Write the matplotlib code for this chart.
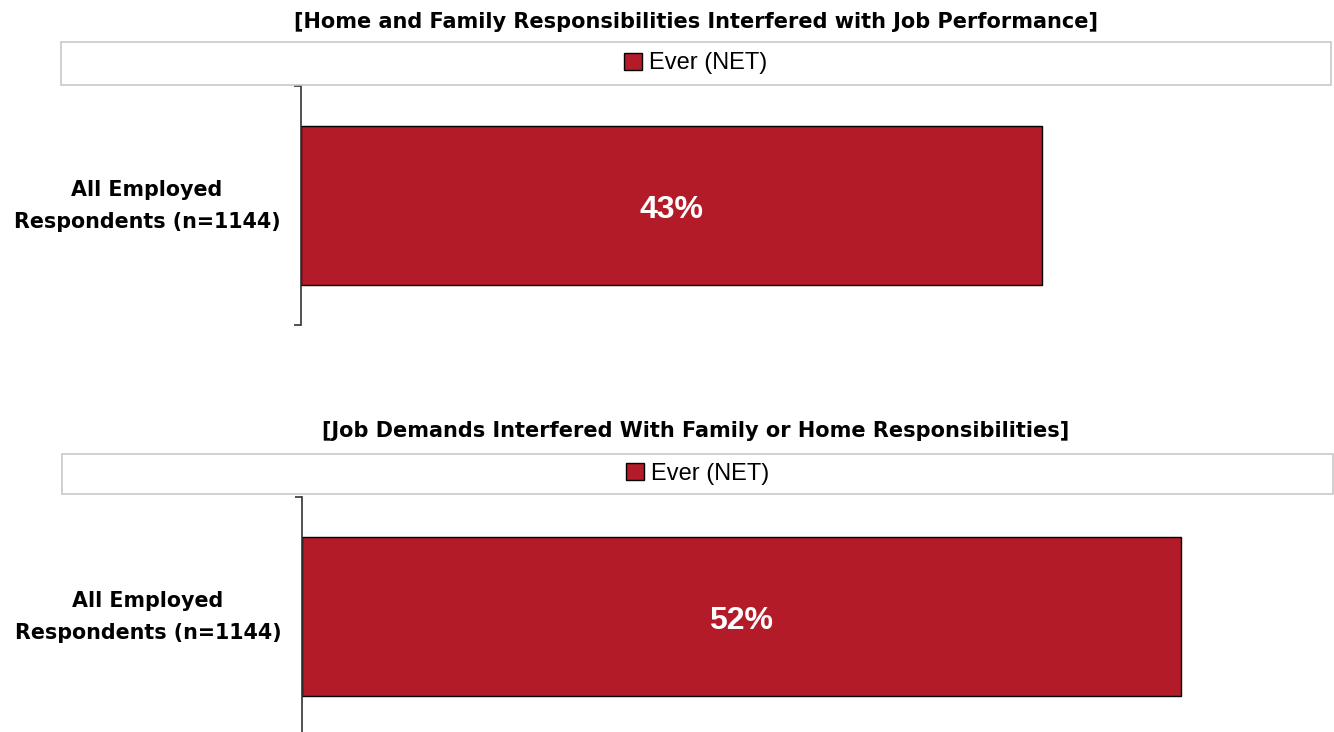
import matplotlib
matplotlib.use("Agg")
import matplotlib.pyplot as plt
from matplotlib.patches import Rectangle

# survey results, one panel per question
titles = [
    "[Home and Family Responsibilities Interfered with Job Performance]",
    "[Job Demands Interfered With Family or Home Responsibilities]",
]
group_label = "All Employed\nRespondents (n=1144)"
series_name = "Ever (NET)"
values = [43, 52]

bar_color = "#B41B28"
W, H = 1334, 732

fig = plt.figure(figsize=(W / 100, H / 100), dpi=100)
fig.patch.set_facecolor("white")


def px_rect(left, top, right, bottom):
    return [left / W, 1 - bottom / H, (right - left) / W, (bottom - top) / H]


# pixel layout of each panel: title y, legend box, axes box, x max
panels = [
    dict(title_y=22, box=(61, 42, 1331, 85), axes=(301, 86, 1331, 325), xmax=59.8),
    dict(title_y=431, box=(62, 454, 1333, 494), axes=(302, 497, 1333, 736), xmax=61.0),
]

for title, val, p in zip(titles, values, panels):
    ax = fig.add_axes(px_rect(*p["axes"]))
    bars = ax.barh([0], [val], height=0.665, color=bar_color,
                   edgecolor="black", linewidth=1.0, label=series_name)
    ax.set_xlim(0, p["xmax"])
    ax.set_ylim(0.5, -0.5)

    for side in ["top", "right", "bottom"]:
        ax.spines[side].set_visible(False)
    ax.spines["left"].set_color("#333333")
    ax.spines["left"].set_linewidth(1.2)
    ax.set_xticks([])

    # category label sits a touch above the bar centre
    ax.set_yticks([-0.03])
    ax.set_yticklabels([group_label], fontfamily="DejaVu Sans",
                       fontweight="bold", fontsize=14.9,
                       multialignment="center", linespacing=1.7)
    ax.tick_params(axis="y", which="major", length=0, pad=15)
    ax.set_yticks([-0.5, 0.5], minor=True)
    ax.tick_params(axis="y", which="minor", length=5, width=1.2, color="#333333")

    ax.text(val / 2, 0.02, f"{val}%", ha="center", va="center", color="white",
            fontsize=23, fontweight="bold", fontfamily="Liberation Sans")

    # legend strip above the plot
    l, t, r, b = p["box"]
    fig.patches.append(Rectangle((l / W, 1 - b / H), (r - l) / W, (b - t) / H,
                                 transform=fig.transFigure, facecolor="white",
                                 edgecolor="#C8C8C8", linewidth=1.2))
    fig.legend(handles=[bars], loc="center",
               bbox_to_anchor=((l + r) / 2 / W, 1 - (t + b) / 2 / H),
               frameon=False, handlelength=0.75, handleheight=0.75,
               handletextpad=0.3,
               prop={"family": "Liberation Sans", "size": 17})

    fig.text(696 / W, 1 - p["title_y"] / H, title, ha="center", va="center",
             fontsize=15, fontweight="bold", fontfamily="DejaVu Sans")

fig.savefig("out.png", dpi=100, facecolor="white")
